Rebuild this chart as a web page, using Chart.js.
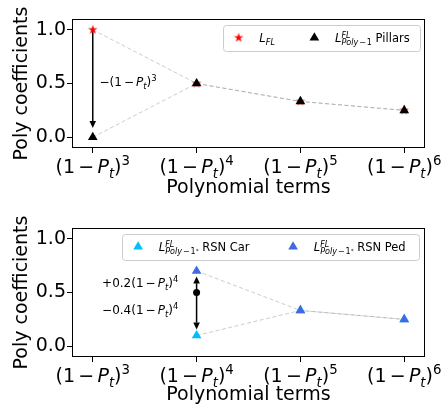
<!DOCTYPE html>
<html>
<head>
<meta charset="utf-8">
<script src="https://cdn.jsdelivr.net/npm/chart.js@4.4.0/dist/chart.umd.min.js"></script>
<style>
  html, body { margin: 0; padding: 0; background: #fff; }
  #wrap { position: relative; width: 445px; height: 407px; }
  canvas { position: absolute; left: 0; }
  #topChart { top: 0; }
  #bottomChart { top: 209px; }
</style>
</head>
<body>
<div id="wrap">
  <canvas id="topChart" width="445" height="200"></canvas>
  <canvas id="bottomChart" width="445" height="198"></canvas>
</div>
<script>
// ---- data ----
const termPositions = [0, 1, 2, 3];
const termPowers = ['3', '4', '5', '6'];
const lflCoeffs = [1.0, 0.5, 0.333, 0.25];
const pillarsCoeffs = [0.0, 0.5, 0.333, 0.25];
const rsnCarCoeffs = [null, 0.1, 0.333, 0.25];
const rsnPedCoeffs = [null, 0.7, 0.333, 0.25];
const rsnBaseCoeffs = [null, 0.5, null, null];
const yTickValues = [0.0, 0.5, 1.0];
// arrows: [term position, from, to]
const pillarsArrows = [[0, 1.0, 0.085]];
const rsnArrows = [[1, 0.5, 0.65], [1, 0.5, 0.155]];

const FONT = "'DejaVu Sans'";
const PLOT_TOP = 19;
const PLOT_H = 129;

// ---- small mathtext helpers ----
const rm = (t, o = {}) => Object.assign({ t }, o);
const it = (t, o = {}) => Object.assign({ t, it: true }, o);
const SUB = { s: 0.7, dy: 0.24 };
const SUP = { s: 0.7, dy: -0.42 };

function fontStr(size, italic) {
  return (italic ? 'italic ' : '') + size + 'px ' + FONT;
}

function pieceWidth(ctx, p, size) {
  if (p.stack) return Math.max(...p.stack.map(row => mathWidth(ctx, row, size)));
  ctx.font = fontStr(size * (p.s || 1), p.it);
  return ctx.measureText(p.t).width + 2 * (p.pad || 0) * size;
}

function mathWidth(ctx, pieces, size) {
  return pieces.reduce((w, p) => w + pieceWidth(ctx, p, size), 0);
}

function drawMath(ctx, pieces, x, y, size, align) {
  const w = mathWidth(ctx, pieces, size);
  if (align === 'center') x -= w / 2;
  ctx.textAlign = 'left';
  ctx.textBaseline = 'alphabetic';
  for (const p of pieces) {
    if (p.stack) {
      p.stack.forEach(row => drawMath(ctx, row, x, y, size, 'left'));
      x += pieceWidth(ctx, p, size);
      continue;
    }
    ctx.font = fontStr(size * (p.s || 1), p.it);
    const pad = (p.pad || 0) * size;
    ctx.fillText(p.t, x + pad, y + (p.dy || 0) * size);
    x += ctx.measureText(p.t).width + 2 * pad;
  }
  return w;
}

const termLabel = n => [rm('(1'), rm('\u2212', { pad: 0.17 }), it('P'), it('t', SUB), rm(')'), rm(n, SUP)];
const polySub = [it('Poly', SUB), rm('\u2212', Object.assign({ pad: 0.08 }, SUB)), rm('1', SUB)];

// ---- markers ----
function makeStar(color, r) {
  const c = document.createElement('canvas');
  const s = Math.ceil(r * 2 + 2);
  c.width = c.height = s;
  const g = c.getContext('2d');
  g.fillStyle = color;
  g.beginPath();
  for (let k = 0; k < 10; k++) {
    const rad = k % 2 ? r * 0.382 : r;
    const a = -Math.PI / 2 + k * Math.PI / 5;
    g.lineTo(s / 2 + rad * Math.cos(a), s / 2 + rad * Math.sin(a));
  }
  g.closePath();
  g.fill();
  return c;
}
const starMarker = makeStar('#ff0000', 5);

function drawMarker(ctx, ds, x, y) {
  if (ds.pointStyle instanceof HTMLCanvasElement) {
    ctx.drawImage(ds.pointStyle, x - ds.pointStyle.width / 2, y - ds.pointStyle.height / 2);
    return;
  }
  const r = ds.pointRadius;
  ctx.fillStyle = ds.pointBackgroundColor;
  ctx.beginPath();
  for (let k = 0; k < 3; k++) {
    const a = k * 2 * Math.PI / 3;
    ctx.lineTo(x + Math.sin(a) * r, y - Math.cos(a) * r);
  }
  ctx.closePath();
  ctx.fill();
}

function points(values) {
  return termPositions.map((x, i) => ({ x, y: values[i] })).filter(p => p.y !== null);
}

// later series are drawn on top, as in the original figure
function series(label, values, style, color, radius, order) {
  return {
    label,
    order,
    data: points(values),
    showLine: true,
    borderColor: 'rgba(128,128,128,0.4)',
    borderWidth: 1,
    borderDash: [4, 2.5],
    pointStyle: style,
    pointRadius: radius,
    pointHoverRadius: radius,
    pointBackgroundColor: color,
    pointBorderColor: color,
    pointBorderWidth: 0
  };
}

// ---- decoration plugin: frame, arrows, notes, legend, math tick labels ----
const decorPlugin = {
  id: 'decor',
  beforeDatasetsDraw(chart, args, opts) {
    const ctx = chart.ctx, xs = chart.scales.x, ys = chart.scales.y;
    ctx.save();
    ctx.strokeStyle = '#000';
    ctx.fillStyle = '#000';
    ctx.lineWidth = 1.5;
    for (const [pos, from, to] of opts.arrows) {
      const x = xs.getPixelForValue(pos);
      const y0 = ys.getPixelForValue(from), y1 = ys.getPixelForValue(to);
      const dir = Math.sign(y1 - y0), hl = 7, hw = 3.3;
      ctx.beginPath();
      ctx.moveTo(x, y0);
      ctx.lineTo(x, y1 - dir * hl);
      ctx.stroke();
      ctx.beginPath();
      ctx.moveTo(x, y1);
      ctx.lineTo(x - hw, y1 - dir * hl);
      ctx.lineTo(x + hw, y1 - dir * hl);
      ctx.closePath();
      ctx.fill();
    }
    ctx.restore();
  },
  afterDatasetsDraw(chart, args, opts) {
    const ctx = chart.ctx, area = chart.chartArea, xs = chart.scales.x, ys = chart.scales.y;
    ctx.save();
    // notes
    ctx.fillStyle = '#000';
    for (const n of opts.notes) {
      drawMath(ctx, n.text, xs.getPixelForValue(n.x), ys.getPixelForValue(n.y) + 0.36 * n.size, n.size, 'left');
    }
    // frame
    ctx.strokeStyle = '#000';
    ctx.lineWidth = 1;
    ctx.strokeRect(Math.round(area.left) + 0.5, Math.round(area.top) + 0.5,
      Math.round(area.right - area.left) - 1, Math.round(area.bottom - area.top) - 1);
    // legend
    const fs = opts.legendSize;
    const pad = 0.4 * fs, handle = 2 * fs, hpad = 0.8 * fs, colsp = 2 * fs;
    const widths = opts.legend.map(e => mathWidth(ctx, e.label, fs) + opts.legendExtra);
    let w = 2 * pad;
    widths.forEach((lw, i) => { w += handle + hpad + lw + (i ? colsp : 0); });
    const h = 26;
    const right = area.right - 0.5 * fs, top = area.top + 0.5 * fs, left = right - w;
    ctx.beginPath();
    ctx.roundRect(Math.round(left) + 0.5, Math.round(top) + 0.5, Math.round(w), h, 3);
    ctx.fillStyle = 'rgba(255,255,255,0.8)';
    ctx.fill();
    ctx.strokeStyle = '#cccccc';
    ctx.stroke();
    let x = left + pad;
    const cy = top + h / 2;
    opts.legend.forEach((e, i) => {
      drawMarker(ctx, chart.data.datasets[e.dataset], x + handle / 2, cy);
      ctx.fillStyle = '#000';
      drawMath(ctx, e.label, x + handle + hpad, cy + 0.4 * fs, fs, 'left');
      x += handle + hpad + widths[i] + colsp;
    });
    // x tick labels
    ctx.fillStyle = '#000';
    xs.ticks.forEach((t, i) => {
      drawMath(ctx, termLabel(termPowers[i]), xs.getPixelForValue(t.value), area.bottom + 25, 19, 'center');
    });
    ctx.restore();
  }
};

function scaleOptions() {
  const tickGrid = { drawOnChartArea: false, drawTicks: true, tickLength: 5, color: '#000', lineWidth: 1 };
  return {
    x: {
      type: 'linear', min: -0.2, max: 3.2,
      afterBuildTicks: s => { s.ticks = termPositions.map(v => ({ value: v })); },
      afterFit: s => { s.height = s.chart.height - PLOT_TOP - PLOT_H; },
      ticks: { display: false },
      grid: tickGrid,
      border: { display: false },
      title: { display: true, text: 'Polynomial terms', color: '#000',
        font: { family: FONT, size: 19 }, padding: { top: 0, bottom: 1 } }
    },
    y: {
      type: 'linear', min: -0.1, max: 1.1,
      afterBuildTicks: s => { s.ticks = yTickValues.map(v => ({ value: v })); },
      afterFit: s => { s.width = 72; },
      ticks: { color: '#000', font: { family: FONT, size: 19 }, padding: 1,
        callback: v => Number(v).toFixed(1) },
      grid: tickGrid,
      border: { display: false },
      title: { display: true, text: 'Poly coefficients', color: '#000',
        font: { family: FONT, size: 19 }, padding: { top: 10.5, bottom: 0 } }
    }
  };
}

function baseOptions(decor) {
  return {
    responsive: false,
    animation: false,
    devicePixelRatio: 1,
    layout: { padding: { top: PLOT_TOP, right: 20, left: 0, bottom: 0 } },
    scales: scaleOptions(),
    plugins: { legend: { display: false }, tooltip: { enabled: false }, decor }
  };
}

// ---- top chart: Pillars ----
new Chart(document.getElementById('topChart'), {
  type: 'scatter',
  data: {
    datasets: [
      series('L_FL', lflCoeffs, starMarker, '#ff0000', 5, 2),
      series('Pillars', pillarsCoeffs, 'triangle', '#000000', 5.6, 1)
    ]
  },
  options: baseOptions({
    arrows: pillarsArrows,
    notes: [
      { x: 0.065, y: 0.52, size: 12, text: [rm('\u2212(1'), rm('\u2212', { pad: 0.17 }), it('P'), it('t', SUB), rm(')'), rm('3', SUP)] }
    ],
    legendSize: 11.5,
    legendExtra: 5,
    legend: [
      { dataset: 0, label: [it('L'), it('FL', { s: 0.7, dy: 0.2 })] },
      { dataset: 1, label: [it('L'), { stack: [[it('FL', SUP)], polySub] }, rm(' Pillars')] }
    ]
  }),
  plugins: [decorPlugin]
});

// ---- bottom chart: RSN ----
new Chart(document.getElementById('bottomChart'), {
  type: 'scatter',
  data: {
    datasets: [
      series('RSN Car', rsnCarCoeffs, 'triangle', '#00bfff', 5.6, 3),
      series('RSN Ped', rsnPedCoeffs, 'triangle', '#4169e1', 5.6, 2),
      {
        label: 'base',
        order: 1,
        data: points(rsnBaseCoeffs),
        showLine: false,
        pointStyle: 'circle',
        pointRadius: 3.5,
        pointBackgroundColor: '#000',
        pointBorderWidth: 0
      }
    ]
  },
  options: baseOptions({
    arrows: rsnArrows,
    notes: [
      { x: 0.09, y: 0.59, size: 12, text: [rm('+0.2(1'), rm('\u2212', { pad: 0.17 }), it('P'), it('t', SUB), rm(')'), rm('4', SUP)] },
      { x: 0.09, y: 0.34, size: 12, text: [rm('\u22120.4(1'), rm('\u2212', { pad: 0.17 }), it('P'), it('t', SUB), rm(')'), rm('4', SUP)] }
    ],
    legendSize: 11.5,
    legendExtra: 9,
    legend: [
      { dataset: 0, label: [it('L'), { stack: [[it('FL', SUP)], polySub.concat([rm('*', { s: 0.5, dy: 0.1 })])] }, rm(' RSN Car')] },
      { dataset: 1, label: [it('L'), { stack: [[it('FL', SUP)], polySub.concat([rm('*', { s: 0.5, dy: 0.1 })])] }, rm(' RSN Ped')] }
    ]
  }),
  plugins: [decorPlugin]
});
</script>
</body>
</html>
